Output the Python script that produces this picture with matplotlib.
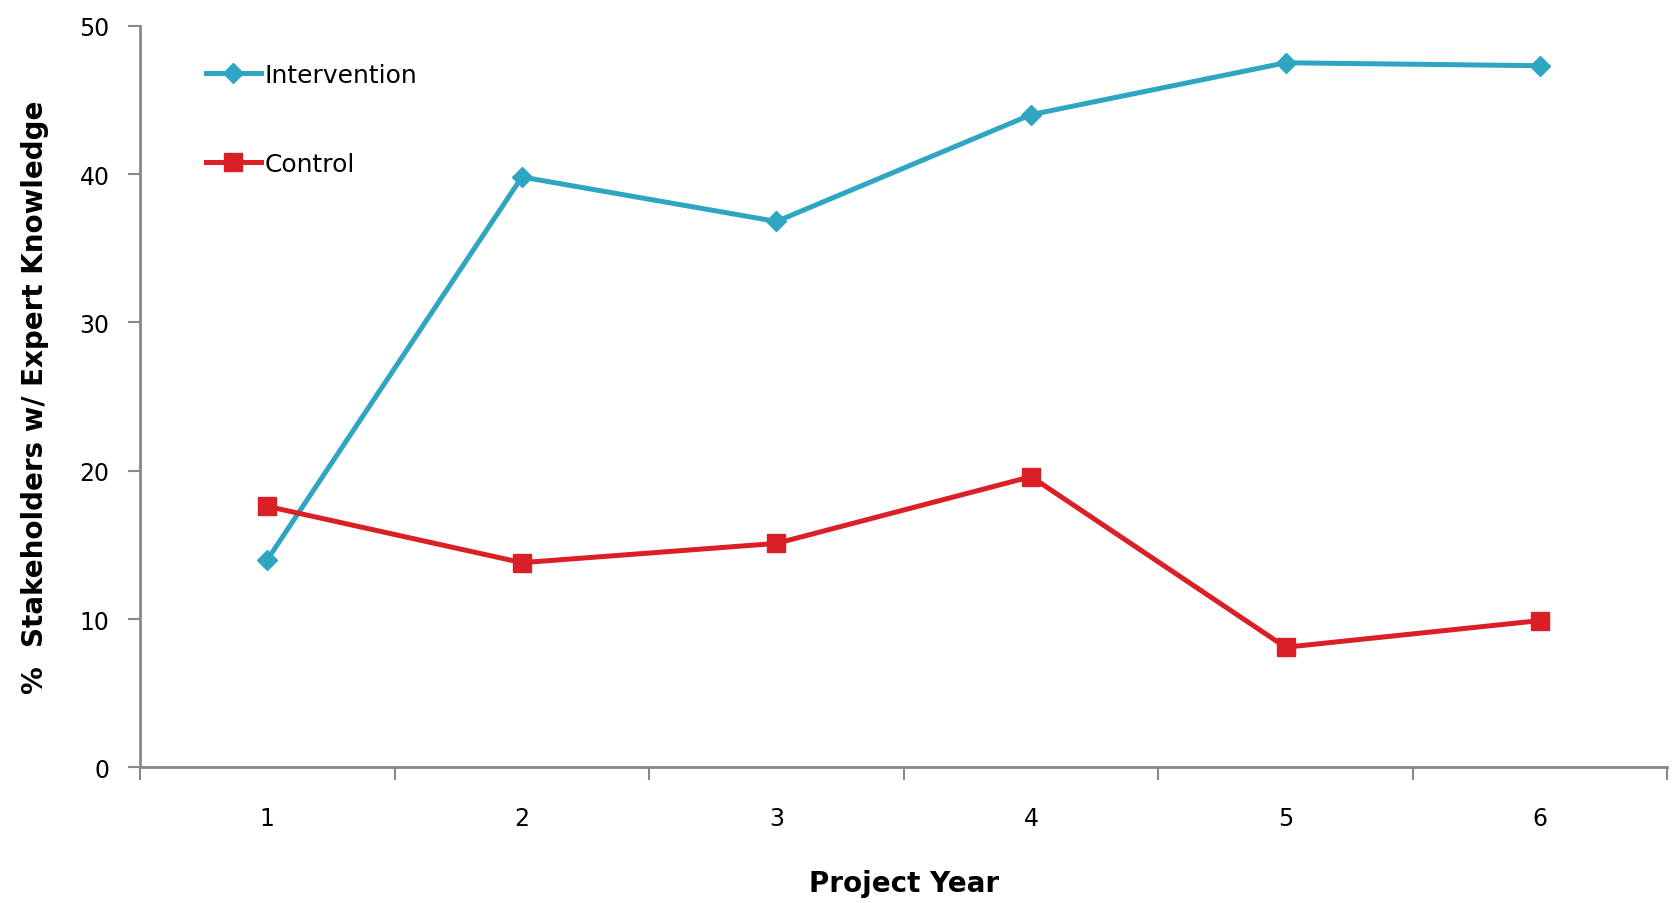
import matplotlib.pyplot as plt
import numpy as np

years = ["1", "2", "3", "4", "5", "6"]
intervention = [14.0, 39.8, 36.8, 44.0, 47.5, 47.3]
control = [17.6, 13.8, 15.1, 19.6, 8.1, 9.9]

plt.rcParams['font.family'] = ['DejaVu Sans']

fig = plt.figure(figsize=(16.73, 9.04), dpi=100)
ax = fig.add_axes([0.0837, 0.150, 0.913, 0.8205])

x = np.arange(1, len(years) + 1)
ax.plot(x, intervention, color='#2EA5C2', lw=3.6, marker='D', ms=10.5,
        label='Intervention')
ax.plot(x, control, color='#DA1F26', lw=3.6, marker='s', ms=13,
        label='Control')

ax.set_xlim(0.5, len(years) + 0.5)
ax.set_ylim(0, 50)
ax.set_yticks(range(0, 51, 10))
ax.set_xticks(np.arange(0.5, len(years) + 1, 1.0))
ax.set_xticklabels([])
ax.set_xticks(x, minor=True)
ax.set_xticklabels(years, minor=True)
ax.tick_params(axis='x', which='major', length=9, width=1.5, color='#888888', direction='out')
ax.tick_params(axis='x', which='minor', length=0, pad=28, labelsize=17)
ax.tick_params(axis='y', length=9, width=1.5, color='#888888', labelsize=17, pad=13)

for s in ['top', 'right']:
    ax.spines[s].set_visible(False)
for s in ['left', 'bottom']:
    ax.spines[s].set_color('#888888')
    ax.spines[s].set_linewidth(2)

ax.set_ylabel('%  Stakeholders w/ Expert Knowledge', fontsize=20, fontweight='bold', labelpad=22)
ax.set_xlabel('Project Year', fontsize=20, fontweight='bold', labelpad=28)

ax.legend(loc='upper left', bbox_to_anchor=(0.043, 0.95), frameon=False,
          fontsize=18, handlelength=2.2, handletextpad=0.15, labelspacing=2.6,
          borderpad=0, borderaxespad=0)

fig.savefig('out.png', dpi=100)
